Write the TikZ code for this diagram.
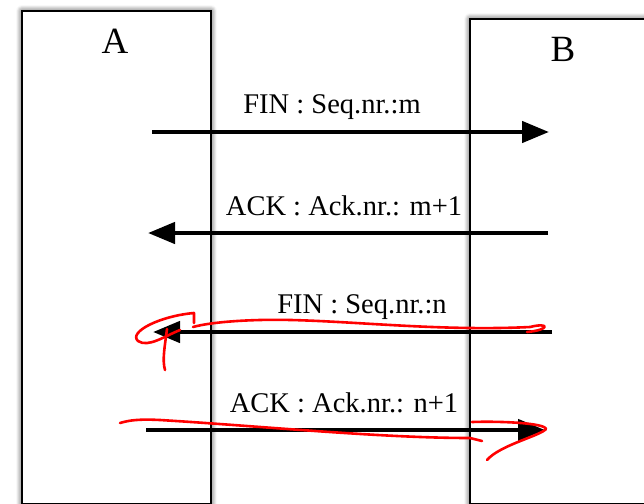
\documentclass[tikz,border=0pt]{standalone}
\usepackage{fontspec}
\setmainfont{Liberation Serif}
\usetikzlibrary{arrows.meta,positioning,shadows.blur}

\begin{document}
\begin{tikzpicture}[x=1pt,y=-1pt,
		host/.style={draw,line width=2pt,fill=white,anchor=north west,inner sep=0pt,
			blur shadow={shadow xshift=0pt,shadow yshift=0pt,shadow blur radius=6pt,shadow opacity=80,shadow blur steps=8}},
		hosttitle/.style={font=\fontsize{37}{40}\selectfont,anchor=base},
		msg/.style={line width=4.5pt,-{Triangle[length=27pt,width=21pt]}},
		lbl/.style={font=\fontsize{28.5}{32}\selectfont,anchor=base},
		pen/.style={red,line width=2.6pt,line cap=round,line join=round}]
		\useasboundingbox (0,0) rectangle (644,503);
		\clip (0,0) rectangle (644,503);
		\node[host,minimum width=189pt,minimum height=493pt] (A) at (21,10) {};
		\node[host,minimum width=200pt,minimum height=485pt] (B) at (469,18) {};
		\node[hosttitle] (tA) at (115,53) {A};
		\node[hosttitle] (tB) at (563,61) {B};
		\coordinate (a1) at (152,132); \coordinate (b1) at (549,132);
		\coordinate (a2) at (148,233); \coordinate (b2) at (548,233);
		\coordinate (a3) at (153,332); \coordinate (b3) at (552,332);
		\coordinate (a4) at (146,430); \coordinate (b4) at (545,430);
		\draw[msg] (a1) -- (b1);
		\draw[msg] (b2) -- (a2);
		\draw[msg] (b3) -- (a3);
		\draw[msg] (a4) -- (b4);
		\node[lbl] (l1) at (332,113) {FIN : Seq.nr.:m};
		\node[lbl] (l2) at (344,215) {ACK : Ack.nr.: m+1};
		\node[lbl] (l3) at (362,313) {FIN : Seq.nr.:n};
		\node[lbl] (l4) at (344,412) {ACK : Ack.nr.: n+1};
		% red pen corrections
		\draw[pen] (527,332) .. controls (550,330) and (550,322) .. (530,327)
			.. controls (430,332) and (330,318) .. (260,320) .. controls (220,321) and (200,325) .. (193,327);
		\draw[pen] (194,323) -- (194,313) .. controls (160,316) and (128,332) .. (138,341)
			.. controls (148,348) and (165,336) .. (180,330);
		\draw[pen] (167,329) .. controls (165,345) and (162,360) .. (165,370);
		\draw[pen] (120,423) .. controls (130,420) and (140,419) .. (160,420)
			.. controls (260,426) and (380,438) .. (470,438) -- (482,441);
		\draw[pen] (472,422) .. controls (500,421) and (545,423) .. (546,429)
			.. controls (540,436) and (500,445) .. (487,460);
\end{tikzpicture}
\end{document}
